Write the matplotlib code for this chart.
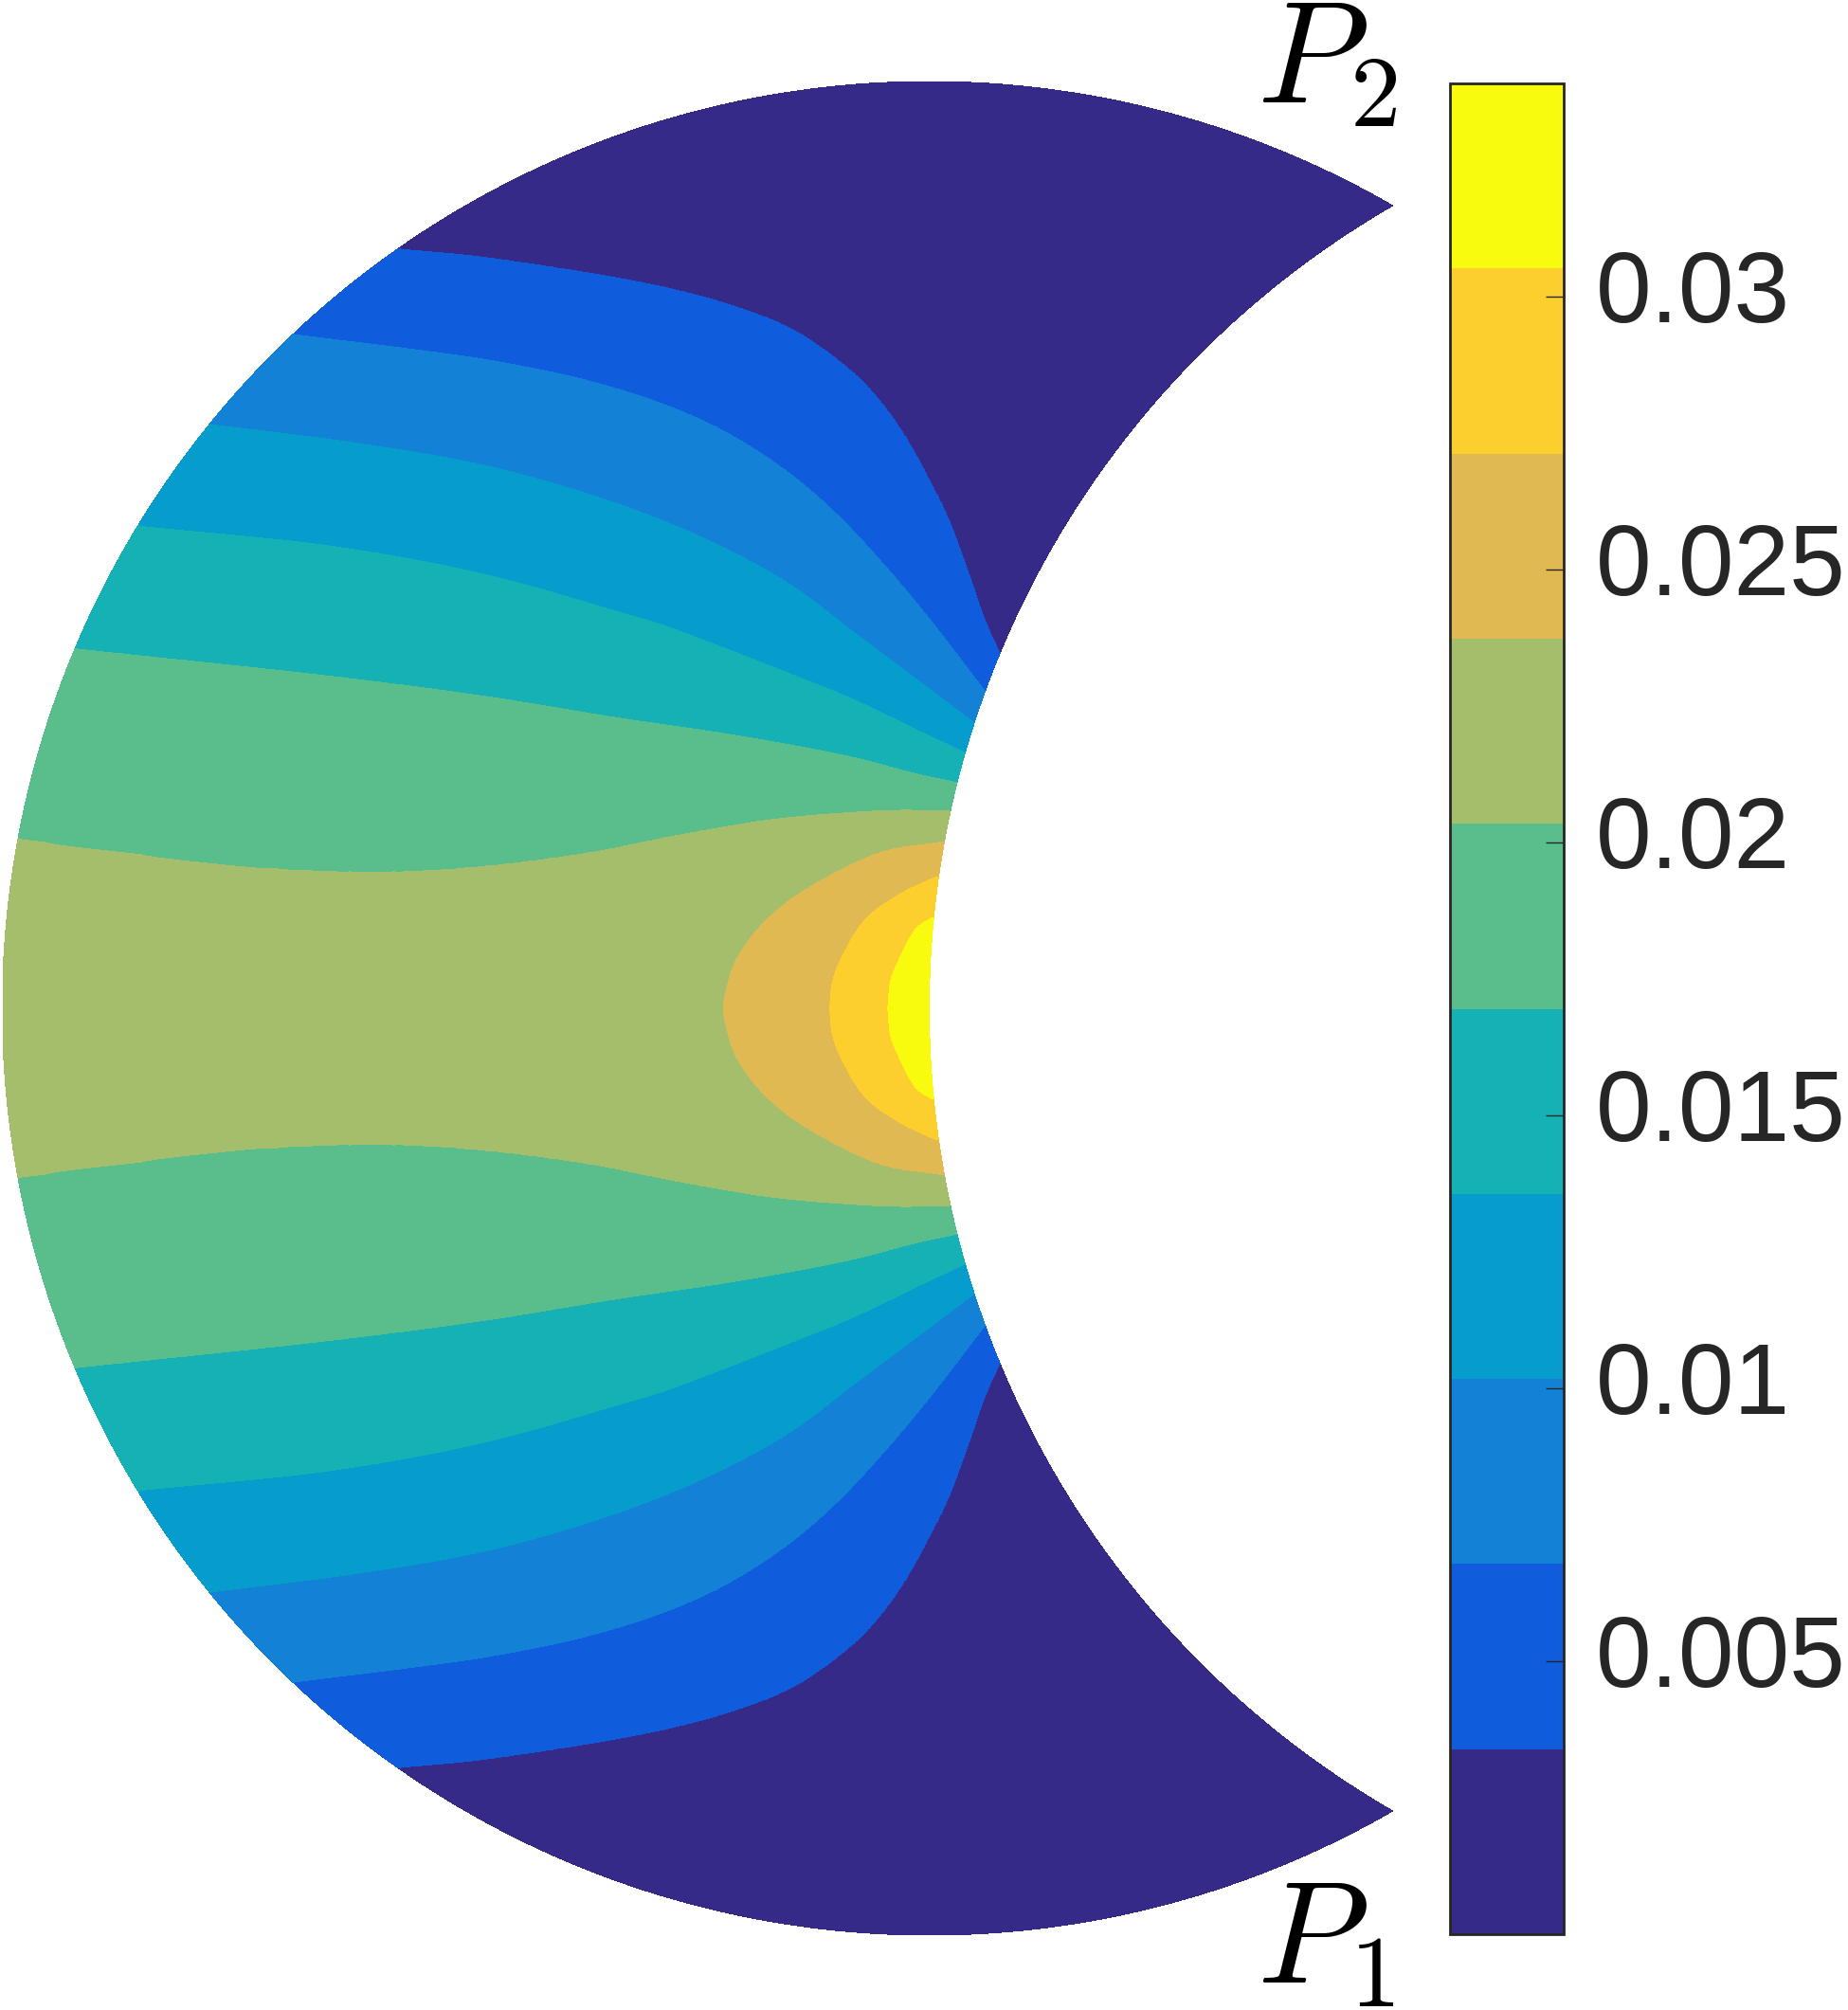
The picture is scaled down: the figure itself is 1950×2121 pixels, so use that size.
import numpy as np
import matplotlib
matplotlib.use("Agg")
import matplotlib.pyplot as plt

plt.rcParams['font.family'] = ['Liberation Sans', 'DejaVu Sans']
plt.rcParams['mathtext.fontset'] = 'cm'

# ---------------- data ----------------
# colour scale: 10 filled bands from 0 to 0.0339
level_min = 0.0
level_max = 0.0339
n_bands = 10
band_colors = ['#352A87', '#0F5CDD', '#1281D6', '#069DCC', '#16B1B4',
               '#59BD8C', '#A5BE6B', '#E1B952', '#FCCE2E', '#F9FB0E']
cbar_ticks = [0.005, 0.01, 0.015, 0.02, 0.025, 0.03]
cbar_ticklabels = ['0.005', '0.01', '0.015', '0.02', '0.025', '0.03']

# band-boundary curves in the upper half of the lune (field is mirror symmetric);
# unit coordinates: outer circle centre (0,0) r=1, inner circle centre (1,0) r=1
lev1_x = [-0.5735, -0.4913, -0.3891, -0.2868, -0.2186, -0.1505, -0.0994, -0.0652, -0.0312, -0.0039, 0.0199, 0.0404, 0.0608, 0.0752]
lev1_y = [0.8190, 0.8111, 0.7965, 0.7778, 0.7597, 0.7334, 0.6994, 0.6687, 0.6244, 0.5767, 0.5289, 0.4744, 0.4165, 0.3842]
lev2_x = [-0.6867, -0.5461, -0.4760, -0.3755, -0.2868, -0.2186, -0.1505, -0.0994, -0.0483, 0.0029, 0.0591]
lev2_y = [0.7270, 0.7094, 0.6994, 0.6789, 0.6516, 0.6210, 0.5767, 0.5324, 0.4778, 0.4165, 0.3433]
lev3_x = [-0.7766, -0.6140, -0.4777, -0.3413, -0.2391, -0.1505, -0.0823, -0.0141, 0.0472]
lev3_y = [0.6299, 0.6091, 0.5852, 0.5460, 0.5051, 0.4574, 0.4062, 0.3551, 0.3088]
lev4_x = [-0.8540, -0.6374, -0.4777, -0.3413, -0.2868, -0.2186, -0.1505, -0.0823, -0.0141, 0.0376]
lev4_y = [0.5203, 0.4975, 0.4676, 0.4294, 0.4131, 0.3875, 0.3609, 0.3333, 0.3006, 0.2761]
lev5_x = [-0.9218, -0.6374, -0.4777, -0.3413, -0.2050, -0.0823, -0.0141, 0.0291]
lev5_y = [0.3879, 0.3573, 0.3364, 0.3142, 0.2938, 0.2707, 0.2529, 0.2437]
lev6_x = [-0.9838, -0.8663, -0.7299, -0.5936, -0.4913, -0.3686, -0.2732, -0.1710, -0.0823, -0.0312, 0.0217]
lev6_y = [0.1830, 0.1677, 0.1524, 0.1472, 0.1524, 0.1677, 0.1864, 0.2035, 0.2114, 0.2137, 0.2127]
lev7_x = [-0.2221, -0.2170, -0.2084, -0.1846, -0.1505, -0.0994, -0.0483, 0.0155]
lev7_y = [0.0, 0.0279, 0.0518, 0.0859, 0.1166, 0.1472, 0.1694, 0.1797]
lev8_x = [-0.1072, -0.1045, -0.0959, -0.0687, -0.0312, 0.0080]
lev8_y = [0.0, 0.0279, 0.0518, 0.0961, 0.1234, 0.1421]
lev9_x = [-0.0442, -0.0421, -0.0329, -0.0141, 0.0029]
lev9_y = [0.0, 0.0279, 0.0518, 0.0859, 0.0979]

# ---------------- build the field on the lune ----------------
a = np.sqrt(3.0) / 2.0   # corners P1, P2 at (0.5, -a), (0.5, a)


def to_circle_coords(x, y, clip=True):
    """(u, t): u = centre of the circle through P1, P2 and the point
    (0 outer arc, 1 inner arc); t = 0 at P2 ... 1 on the symmetry axis."""
    x = np.asarray(x, float)
    y = np.abs(np.asarray(y, float))
    c = (1 - x ** 2 - y ** 2) / (1 - 2 * x)
    cc = np.clip(c, 0, 1)
    phi0 = np.arctan2(a, 0.5 - cc)
    phi = np.arctan2(y, x - cc)
    return (cc if clip else c), (phi - phi0) / (np.pi - phi0)


def smooth_curve(px, py, n=80):
    """centripetal Catmull-Rom spline through the read points"""
    P = np.column_stack([px, py]).astype(float)
    P = np.vstack([2 * P[0] - P[1], P, 2 * P[-1] - P[-2]])
    out = []
    for i in range(1, len(P) - 2):
        p0, p1, p2, p3 = P[i - 1], P[i], P[i + 1], P[i + 2]
        t0 = 0.0
        t1 = t0 + np.linalg.norm(p1 - p0) ** 0.5
        t2 = t1 + np.linalg.norm(p2 - p1) ** 0.5
        t3 = t2 + np.linalg.norm(p3 - p2) ** 0.5
        s = np.linspace(t1, t2, n, endpoint=False)[:, None]
        A1 = (t1 - s) / (t1 - t0) * p0 + (s - t0) / (t1 - t0) * p1
        A2 = (t2 - s) / (t2 - t1) * p1 + (s - t1) / (t2 - t1) * p2
        A3 = (t3 - s) / (t3 - t2) * p2 + (s - t2) / (t3 - t2) * p3
        B1 = (t2 - s) / (t2 - t0) * A1 + (s - t0) / (t2 - t0) * A2
        B2 = (t3 - s) / (t3 - t1) * A2 + (s - t1) / (t3 - t1) * A3
        out.append((t2 - s) / (t2 - t1) * B1 + (s - t1) / (t2 - t1) * B2)
    out.append(P[-2][None])
    return np.vstack(out)


curves = [(lev1_x, lev1_y), (lev2_x, lev2_y), (lev3_x, lev3_y),
          (lev4_x, lev4_y), (lev5_x, lev5_y), (lev6_x, lev6_y),
          (lev7_x, lev7_y), (lev8_x, lev8_y), (lev9_x, lev9_y)]
levels = np.linspace(level_min, level_max, n_bands + 1)

nu, nt = 700, 2000
uu = np.linspace(0, 1, nu)
tt = np.linspace(0, 2, nt)

knots = [np.zeros(nu)]
for cx, cy in curves:
    cx = np.asarray(cx, float)
    cy = np.asarray(cy, float)
    closed = cy[0] == 0.0
    if closed:   # curve meets the symmetry axis: mirror it for a smooth crossing
        cx = np.concatenate([cx[:0:-1], cx])
        cy = np.concatenate([-cy[:0:-1], cy])
    pts = smooth_curve(cx, cy)
    pts = pts[pts[:, 1] >= 0]
    cu, ct = to_circle_coords(pts[:, 0], pts[:, 1], clip=False)
    keep = (cu >= 0) & (cu <= 1)
    cu, ct = cu[keep], ct[keep]
    o = np.argsort(cu)
    cu, ct = cu[o], ct[o]
    tk = np.interp(uu, cu, ct)
    if closed:
        below = uu < cu[0]
        tk[below] = 1.0 + 2.0 * (cu[0] - uu[below])
    knots.append(tk)
knots.append(1 + 2.0 * (1 - uu))
knots = np.array(knots)               # (11, nu)
knots = np.maximum.accumulate(knots + np.arange(11)[:, None] * 1e-9, axis=0)

U, T = np.meshgrid(uu, tt)
R = np.sqrt((0.5 - U) ** 2 + 0.75)
PHI0 = np.arctan2(a, 0.5 - U)
PHI = PHI0 + T * (np.pi - PHI0)
GX = U + R * np.cos(PHI)
GY = R * np.sin(PHI)
Teff = np.where(T <= 1, T, 2 - T)

F = np.empty_like(T)
for j in range(nu):
    F[:, j] = np.interp(Teff[:, j], knots[:, j], levels)
F = np.clip(F, level_min, level_max)

# ---------------- figure ----------------
W, H = 1950, 2121
fig = plt.figure(figsize=(W / 100, H / 100), dpi=100)
ax = fig.add_axes([2.5 / W, (H - 2042) / H, 1467 / W, 1956 / H])
cs = ax.contourf(GX, GY, F, levels=levels, colors=band_colors, antialiased=False)
ax.set_xlim(-1, 0.5)
ax.set_ylim(-1, 1)
ax.set_aspect('equal')
ax.axis('off')

cax = fig.add_axes([1530 / W, (H - 2041) / H, 119.5 / W, 1953 / H])
cb = fig.colorbar(cs, cax=cax)
cb.set_ticks(cbar_ticks)
cb.set_ticklabels(cbar_ticklabels)
cb.outline.set_linewidth(2.0)
cb.outline.set_edgecolor('#262626')
cax.tick_params(axis='y', direction='in', length=14, width=1.0,
                colors='#262626', labelsize=76, pad=25)
for lab in cax.get_yticklabels():
    lab.set_verticalalignment('center')

fig.text(1326 / W, 1 - 108 / H, r'$P_2$', fontsize=110, ha='left', va='baseline', color='black')
fig.text(1326 / W, 1 - 2092 / H, r'$P_1$', fontsize=110, ha='left', va='baseline', color='black')

fig.savefig('out.png', dpi=100)
